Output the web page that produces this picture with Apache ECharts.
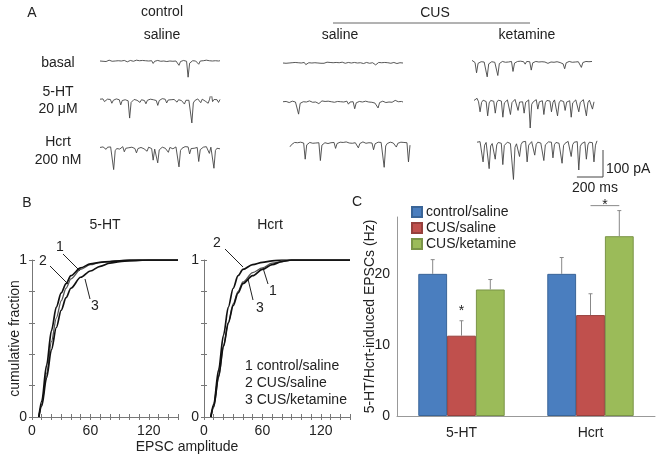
<!DOCTYPE html>
<html>
<head>
<meta charset="utf-8">
<script src="https://cdn.jsdelivr.net/npm/echarts@6/dist/echarts.min.js"></script>
<style>
html, body { margin: 0; padding: 0; background: #fff; }
#main { width: 664px; height: 462px; }
</style>
</head>
<body>
<div id="main"></div>
<script>
// ---- A: example current traces (pA) ----
var ctlBasal = [0,2,-1,1,-2,0,3,1,-1,2,0,-2,1,3,0,-1,2,1,-3,0,2,1,-1,0,3,-2,1,0,2,-1,1,3,0,-2,1,-9,-1,0,2,1,-1,3,0,1,-2,2,0,1,-1,3,0,2,-16,-2,0,2,1,-1,-60,-8,-1,1,3,0,-1,-12,0,2,1,0,3,-1,1,2,0,-2,1,3,0,1];
var ctl5ht = [3,-2,4,-6,1,3,-4,2,-12,-1,2,4,-2,1,-18,-2,3,1,4,-3,-67,-9,-2,2,4,-1,3,-9,1,5,-2,-14,-1,2,3,-3,1,4,-2,-20,-2,2,5,-1,3,-11,0,4,1,-3,2,5,-8,1,3,-2,4,-15,-1,2,-1,3,-85,-11,-2,1,4,-2,-10,3,1,-4,2,-12,3,30,-6,2,-3,1,-9,2];
var ctlHcrt = [2,-3,4,1,-5,3,-2,4,-1,-80,-10,-2,3,-4,2,5,-14,-1,4,1,-6,3,5,-2,-18,-2,4,2,6,-3,1,-12,3,4,-2,-45,-4,2,-55,-7,-1,3,5,-1,4,-16,2,6,-3,1,4,-2,-70,-9,-1,3,5,-2,4,-22,-2,3,-1,4,2,-50,-6,-1,3,-2,5,1,-20,3,4,-75,-9,-1,2,-3];
var cusBasal = [0,1,-1,2,0,-2,1,0,2,-1,1,3,0,-1,2,-6,-1,1,2,0,3,1,-2,0,2,-1,-8,-1,1,3,0,2,-1,1,0,2,-2,1,0,3,1,-1,0,2,-5,0,1,2,-1,0,3,1,0,-2,1,2,0,-1,3,1,0,-7,-1,2,0,1,-1,2,0,1,3,-1,0,2,1,-2,0,1,2,0];
var cus5ht = [1,-1,2,0,-2,1,3,-1,0,2,-45,-5,-1,1,3,0,-2,4,1,-1,3,0,2,-6,1,4,-1,2,0,3,-2,1,5,-1,0,2,-3,1,4,0,-1,3,-8,0,2,1,-25,-3,-1,2,4,0,-2,3,1,0,5,-1,2,-4,1,-22,-2,0,3,1,-2,4,0,2,-1,3,6,0,1,-2,2,0];
var cusHcrt = [-14,-6,-1,2,4,1,-2,3,1,0,-60,-7,-1,2,4,-1,3,0,2,1,-65,-8,-1,1,3,-2,4,1,-1,2,-20,-2,1,3,0,2,-2,4,1,0,3,-1,2,1,0,-18,-2,2,4,0,-1,3,1,2,0,-25,-3,1,3,-1,2,0,-90,-11,-2,-2,3,1,0,2,-15,-1,1,3,0,2,-3,1,-70,-8];
var ketBasal = [6,3,-2,-40,-5,-1,1,-2,0,2,-55,-7,-1,1,3,-1,0,-50,-6,-1,2,1,-1,3,0,-6,2,-35,-4,-1,2,0,3,-1,1,-8,2,0,1,-30,-3,-1,2,3,0,-2,1,3,0,2,-5,1,0,3,-1,2,1,0,-2,2,-7,-25,-3,0,2,1,-1,3,0,2,1,-3,-20,-2,0,2,-1,1,0,2];
var ket5ht = [2,4,10,-3,-40,-5,3,5,-2,-55,-7,2,6,-1,-45,-5,3,5,0,-60,-7,-2,4,2,-50,-6,1,6,3,-35,-4,2,-3,-45,-5,1,4,-100,-12,-3,2,5,-30,-3,3,1,-50,-6,2,6,0,-40,-5,4,1,-55,-7,2,5,-2,-35,-4,3,1,-60,-7,-1,4,6,-40,-5,1,5,2,-55,-6,3,0,-30,-3];
var ketHcrt = [3,-2,5,1,-70,-8,2,4,-95,-11,-2,3,-60,-7,2,6,-1,-80,-9,-2,3,5,-2,1,-135,-16,-3,2,-50,-6,4,1,6,-70,-8,-1,5,2,-45,-5,3,6,0,-2,-65,-7,-1,4,1,3,-55,-6,2,5,-1,4,-75,-9,-1,3,6,1,-50,-6,3,-1,5,-100,-12,-2,2,4,-60,-7,3,5,1,-70,-8,8];

// ---- B: cumulative fraction of EPSC amplitude ----
var amp = [7, 10, 15, 20, 25, 30, 35, 40, 50, 60, 70, 80, 90, 100, 120, 150];
var ht1 = [0, 0.08, 0.28, 0.48, 0.63, 0.74, 0.82, 0.88, 0.94, 0.97, 0.985, 0.99, 0.995, 1, 1, 1];
var ht2 = [0, 0.10, 0.33, 0.55, 0.70, 0.79, 0.85, 0.90, 0.95, 0.975, 0.985, 0.99, 0.995, 1, 1, 1];
var ht3 = [0, 0.07, 0.25, 0.43, 0.57, 0.68, 0.76, 0.82, 0.89, 0.93, 0.96, 0.98, 0.99, 0.995, 1, 1];
var hc1 = [0, 0.06, 0.25, 0.45, 0.60, 0.72, 0.80, 0.86, 0.92, 0.95, 0.98, 0.99, 1, 1, 1, 1];
var hc2 = [0, 0.08, 0.30, 0.52, 0.70, 0.82, 0.90, 0.94, 0.97, 0.985, 0.995, 1, 1, 1, 1, 1];
var hc3 = [0, 0.07, 0.26, 0.45, 0.60, 0.71, 0.79, 0.85, 0.90, 0.94, 0.97, 0.99, 1, 1, 1, 1];

// ---- C: induced EPSC frequency (Hz) ----
var drugs = ['5-HT', 'Hcrt'];
var groups = ['control/saline', 'CUS/saline', 'CUS/ketamine'];
var ctlSal = [20, 20];
var cusSal = [11.3, 14.2];
var cusKet = [17.8, 25.3];
var ctlSalErr = [2.0, 2.3];
var cusSalErr = [2.1, 3.0];
var cusKetErr = [1.4, 3.6];
var stars = [[0, 1, 1, 15.3], [1, 1, 2, 29.6]]; // [drug, from group, to group, height]

var FONT = "'Liberation Sans', Arial, sans-serif";
var INK = '#222';
var K = 0.27;       // px per pA
var MSPX = 120 / 920; // px per ms
var GAP = 0.33;

var chart = echarts.init(document.getElementById('main'));

var grids = [], xAxes = [], yAxes = [], series = [];

var traces = [
  [ctlBasal, 100, 61], [ctl5ht, 100, 100], [ctlHcrt, 100, 148],
  [cusBasal, 283, 63], [cus5ht, 283, 102], [cusHcrt, 290, 143],
  [ketBasal, 472, 62], [ket5ht, 474, 101], [ketHcrt, 477, 143]
];
traces.forEach(function (t, i) {
  grids.push({ left: t[1], top: t[2] - 12 * K, width: 120, height: 152 * K });
  xAxes.push({ gridIndex: i, type: 'value', min: 0, max: t[0].length - 1, show: false });
  yAxes.push({ gridIndex: i, type: 'value', min: -140, max: 12, show: false });
  series.push({
    type: 'line', xAxisIndex: i, yAxisIndex: i, silent: true,
    data: t[0].map(function (v, j) { return [j, v]; }),
    symbol: 'none', lineStyle: { color: '#444', width: 0.9 }
  });
});

function cumPanel(left, curves, withName) {
  var gi = grids.length;
  var xi = xAxes.length, yi = yAxes.length;
  var tickStyle = { color: '#777', width: 1 };
  grids.push({ left: left, top: 260, width: 146, height: 157 });
  xAxes.push({
    gridIndex: gi, type: 'value', min: 0, max: 150, interval: 10, position: 'bottom',
    axisLine: { lineStyle: tickStyle }, axisTick: { length: 3, lineStyle: tickStyle },
    splitLine: { show: false },
    axisLabel: { color: INK, fontSize: 14, fontFamily: FONT, margin: 7,
      formatter: function (v) { return v % 60 === 0 ? v : ''; } }
  });
  xAxes.push({
    gridIndex: gi, type: 'value', min: 0, max: 150, interval: 10, position: 'bottom',
    axisLine: { show: false }, axisTick: { inside: true, length: 3, lineStyle: tickStyle },
    axisLabel: { show: false }, splitLine: { show: false }
  });
  yAxes.push({
    gridIndex: gi, type: 'value', min: 0, max: 1, interval: 0.2, position: 'left',
    axisLine: { show: true, lineStyle: tickStyle }, axisTick: { length: 3, lineStyle: tickStyle },
    splitLine: { show: false },
    axisLabel: { color: INK, fontSize: 14, fontFamily: FONT, margin: 5,
      formatter: function (v) { return (v === 0 || v === 1) ? v : ''; } },
    name: withName ? 'cumulative fraction' : '', nameLocation: 'middle', nameGap: 10,
    nameMoveOverlap: false,
    nameTextStyle: { color: INK, fontSize: 14, fontFamily: FONT }
  });
  yAxes.push({
    gridIndex: gi, type: 'value', min: 0, max: 1, interval: 0.2, position: 'left',
    axisLine: { show: false }, axisTick: { inside: true, length: 3, lineStyle: tickStyle },
    axisLabel: { show: false }, splitLine: { show: false }
  });
  curves.forEach(function (c, k) {
    series.push({
      type: 'line', xAxisIndex: xi, yAxisIndex: yi, silent: true,
      smooth: 0.3, smoothMonotone: 'x', symbol: 'none',
      data: amp.map(function (a, j) { return [a, c[j]]; }),
      lineStyle: { color: k === 0 ? '#555' : '#111', width: k === 0 ? 1.3 : 1.7 }
    });
  });
}
cumPanel(32, [ht1, ht2, ht3], true);
cumPanel(204, [hc1, hc2, hc3], false);

// ---- C ----
var gC = grids.length, xC = xAxes.length, yC = yAxes.length;
grids.push({ left: 397, top: 217, right: 9, bottom: 46 });
xAxes.push({
  gridIndex: gC, type: 'category', data: drugs,
  axisLine: { lineStyle: { color: '#999' } },
  axisTick: { length: 3, lineStyle: { color: '#999' } },
  axisLabel: { color: INK, fontSize: 14, fontFamily: FONT, margin: 10 }
});
yAxes.push({
  gridIndex: gC, type: 'value', min: 0, max: 28, interval: 10,
  axisLine: { show: true, lineStyle: { color: '#999' } },
  axisTick: { show: false }, splitLine: { show: false },
  axisLabel: { color: INK, fontSize: 14, fontFamily: FONT, margin: 7,
    formatter: function (v) { return v % 10 === 0 ? v : ''; } },
  name: '5-HT/Hcrt-induced EPSCs (Hz)', nameLocation: 'middle', nameGap: 20,
  nameMoveOverlap: false,
  nameTextStyle: { color: INK, fontSize: 14, fontFamily: FONT }
});

var barColors = ['#4a7ebf', '#c0504d', '#9bbb59'];
var barBorders = ['#3a6598', '#96403d', '#7a9447'];
var barVals = [ctlSal, cusSal, cusKet];
var barErrs = [ctlSalErr, cusSalErr, cusKetErr];

barVals.forEach(function (vals, s) {
  series.push({
    type: 'bar', name: groups[s], xAxisIndex: xC, yAxisIndex: yC, data: vals,
    barGap: '0%', barCategoryGap: (GAP * 100) + '%',
    itemStyle: { color: barColors[s], borderColor: barBorders[s], borderWidth: 1 }
  });
});

function errRender(slot) {
  return function (params, api) {
    var c = api.value(0), v = api.value(1), e = api.value(2);
    var p0 = api.coord([c, v]);
    var p1 = api.coord([c, v + e]);
    var bw = api.size([1, 0])[0] * (1 - GAP) / 3;
    var x = p0[0] + (slot - 1) * bw;
    var st = { stroke: '#888', lineWidth: 1 };
    return { type: 'group', children: [
      { type: 'line', shape: { x1: x, y1: p0[1], x2: x, y2: p1[1] }, style: st },
      { type: 'line', shape: { x1: x - 2, y1: p1[1], x2: x + 2, y2: p1[1] }, style: st }
    ] };
  };
}
barVals.forEach(function (vals, s) {
  series.push({
    type: 'custom', xAxisIndex: xC, yAxisIndex: yC, silent: true, clip: false, z: 3,
    renderItem: errRender(s),
    data: vals.map(function (v, i) { return [i, v, barErrs[s][i]]; })
  });
});

series.push({
  type: 'custom', xAxisIndex: xC, yAxisIndex: yC, silent: true, clip: false, z: 4,
  data: stars,
  renderItem: function (params, api) {
    var c = api.value(0), a = api.value(1), b = api.value(2), h = api.value(3);
    var p = api.coord([c, h]);
    var bw = api.size([1, 0])[0] * (1 - GAP) / 3;
    var x1 = p[0] + (a - 1) * bw, x2 = p[0] + (b - 1) * bw;
    var kids = [];
    var sy = p[1];
    if (a !== b) {
      kids.push({ type: 'line', shape: { x1: x1, y1: p[1], x2: x2, y2: p[1] },
        style: { stroke: '#888', lineWidth: 1 } });
      sy = p[1] - 4;
    }
    kids.push({ type: 'text', style: { text: '*', x: (x1 + x2) / 2, y: sy + 4,
      align: 'center', textAlign: 'center', verticalAlign: 'middle', textVerticalAlign: 'middle',
      font: '14px ' + FONT, fill: INK } });
    return { type: 'group', children: kids };
  }
});

function txt(x, y, s, align) {
  return { type: 'text', silent: true, style: {
    text: s, x: x, y: y, font: '14px ' + FONT, fill: INK,
    align: align || 'center', textAlign: align || 'center',
    verticalAlign: 'middle', textVerticalAlign: 'middle' } };
}
function seg(x1, y1, x2, y2, color) {
  return { type: 'line', silent: true, shape: { x1: x1, y1: y1, x2: x2, y2: y2 },
    style: { stroke: color || '#222', lineWidth: 1 } };
}

var graphics = [
  txt(32, 13, 'A'), txt(162, 12, 'control'), txt(162, 35, 'saline'),
  txt(435, 13, 'CUS'), seg(333, 23, 530, 23, '#666'),
  txt(340, 35, 'saline'), txt(527, 35, 'ketamine'),
  txt(58, 63, 'basal'), txt(58, 92, '5-HT'), txt(58, 109, '20 μM'),
  txt(58, 142, 'Hcrt'), txt(58, 160, '200 nM'),
  { type: 'polyline', silent: true,
    shape: { points: [[603 - 200 * MSPX, 177], [603, 177], [603, 177 - 100 * K]] },
    style: { stroke: '#444', lineWidth: 1, fill: null } },
  txt(606, 169, '100 pA', 'left'), txt(595, 188, '200 ms'),

  txt(27, 203, 'B'), txt(105, 225, '5-HT'), txt(270, 225, 'Hcrt'),
  txt(187, 447, 'EPSC amplitude'),
  txt(60, 247, '1'), seg(63, 254, 80, 271),
  txt(43, 261, '2'), seg(50, 266, 68, 284),
  txt(95, 306, '3'), seg(90, 299, 85, 279),
  txt(217, 243, '2'), seg(225, 249, 243, 267),
  txt(273, 291, '1'), seg(268, 284, 263, 268),
  txt(260, 308, '3'), seg(253, 300, 248, 279),
  txt(245, 366, '1 control/saline', 'left'),
  txt(245, 383, '2 CUS/saline', 'left'),
  txt(245, 400, '3 CUS/ketamine', 'left'),

  txt(357, 202, 'C')
];

chart.setOption({
  animation: false,
  backgroundColor: '#fff',
  textStyle: { fontFamily: FONT },
  grid: grids,
  xAxis: xAxes,
  yAxis: yAxes,
  legend: {
    data: groups, orient: 'vertical', left: 411, top: 205,
    itemWidth: 10, itemHeight: 10, itemGap: 2, icon: 'rect', selectedMode: false,
    padding: 0,
    textStyle: { color: INK, fontSize: 14, fontFamily: FONT, padding: [0, 0, 0, -1] }
  },
  series: series,
  graphic: graphics
});
</script>
</body>
</html>
